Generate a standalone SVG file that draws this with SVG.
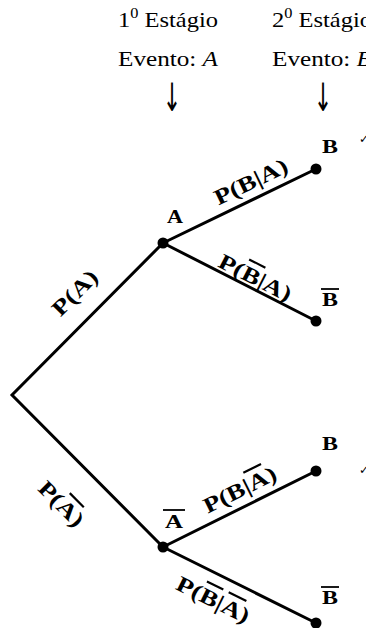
<svg xmlns="http://www.w3.org/2000/svg" width="366" height="628" viewBox="0 0 366 628">
<style>
.t{font-family:"Liberation Serif","DejaVu Serif",serif;font-size:21px;fill:#000}
.n{font-family:"Liberation Serif","DejaVu Serif",serif;font-size:19px;font-weight:bold;fill:#000}
.p{font-family:"Liberation Serif","DejaVu Serif",serif;font-size:22px;font-weight:bold;fill:#000;text-anchor:middle}
.ar{font-family:"DejaVu Sans",sans-serif;font-size:26px;fill:#000;text-anchor:middle}
.ck{font-family:"DejaVu Sans",sans-serif;font-size:12px;fill:#000}
.e{stroke:#000;stroke-width:3;fill:none;stroke-linecap:round}
.bar{stroke:#000;stroke-width:1.8}
.ol{text-decoration:overline}
</style>
<g id="header">
<text class="t" x="118" y="27" textLength="100" lengthAdjust="spacingAndGlyphs">1<tspan font-size="14" dy="-9">0</tspan><tspan dy="9"> Estágio</tspan></text>
<text class="t" x="272" y="27" textLength="100" lengthAdjust="spacingAndGlyphs">2<tspan font-size="14" dy="-9">0</tspan><tspan dy="9"> Estágio</tspan></text>
<text class="t" x="118" y="66" textLength="100" lengthAdjust="spacingAndGlyphs">Evento: <tspan font-style="italic">A</tspan></text>
<text class="t" x="272" y="66" textLength="100" lengthAdjust="spacingAndGlyphs">Evento: <tspan font-style="italic">B</tspan></text>
<text class="ar" transform="translate(172,111) scale(0.85,1.5)">↓</text>
<text class="ar" transform="translate(323,111) scale(0.85,1.5)">↓</text>
<text class="ck" x="359" y="143">✓</text>
<text class="ck" x="359" y="474">✓</text>
</g>
<g id="connectors">
<polyline class="e" points="163,243 12,395 163,547"/>
<line class="e" x1="163" y1="243" x2="316" y2="169"/>
<line class="e" x1="163" y1="243" x2="316" y2="321"/>
<line class="e" x1="163" y1="547" x2="316" y2="471"/>
<line class="e" x1="163" y1="547" x2="316" y2="623"/>
<g transform="translate(75,293) rotate(-45.2)"><text class="p" y="7" textLength="55" lengthAdjust="spacingAndGlyphs">P(A)</text></g>
<g transform="translate(61,504) rotate(45.2)"><text class="p" y="7" textLength="55" lengthAdjust="spacingAndGlyphs">P(<tspan class="ol">A</tspan>)</text></g>
<g transform="translate(251,182) rotate(-25.8)"><text class="p" y="7" textLength="79" lengthAdjust="spacingAndGlyphs">P(B|A)</text></g>
<g transform="translate(255,278) rotate(27)"><text class="p" y="7" textLength="79" lengthAdjust="spacingAndGlyphs">P(<tspan class="ol">B</tspan>|A)</text></g>
<g transform="translate(240,490) rotate(-26.4)"><text class="p" y="7" textLength="79" lengthAdjust="spacingAndGlyphs">P(B|<tspan class="ol">A</tspan>)</text></g>
<g transform="translate(213,600) rotate(26.4)"><text class="p" y="7" textLength="79" lengthAdjust="spacingAndGlyphs">P(<tspan class="ol">B</tspan>|<tspan class="ol">A</tspan>)</text></g>
</g>
<g id="nA"><circle cx="163" cy="243" r="5.5"/><text class="n" x="167" y="223" textLength="16" lengthAdjust="spacingAndGlyphs">A</text></g>
<g id="nAB"><circle cx="316" cy="169" r="5.5"/><text class="n" x="322" y="153" textLength="16" lengthAdjust="spacingAndGlyphs">B</text></g>
<g id="nABbar"><circle cx="316" cy="321" r="5.5"/><line class="bar" x1="321" y1="289" x2="339" y2="289"/><text class="n" x="322" y="306" textLength="16" lengthAdjust="spacingAndGlyphs">B</text></g>
<g id="nAbar"><circle cx="163" cy="547" r="5.5"/><line class="bar" x1="163" y1="510" x2="185" y2="510"/><text class="n" x="165" y="528" textLength="18" lengthAdjust="spacingAndGlyphs">A</text></g>
<g id="nAbarB"><circle cx="316" cy="471" r="5.5"/><text class="n" x="322" y="450" textLength="16" lengthAdjust="spacingAndGlyphs">B</text></g>
<g id="nAbarBbar"><circle cx="316" cy="623" r="5.5"/><line class="bar" x1="321" y1="587" x2="339" y2="587"/><text class="n" x="322" y="604" textLength="16" lengthAdjust="spacingAndGlyphs">B</text></g>
</svg>
